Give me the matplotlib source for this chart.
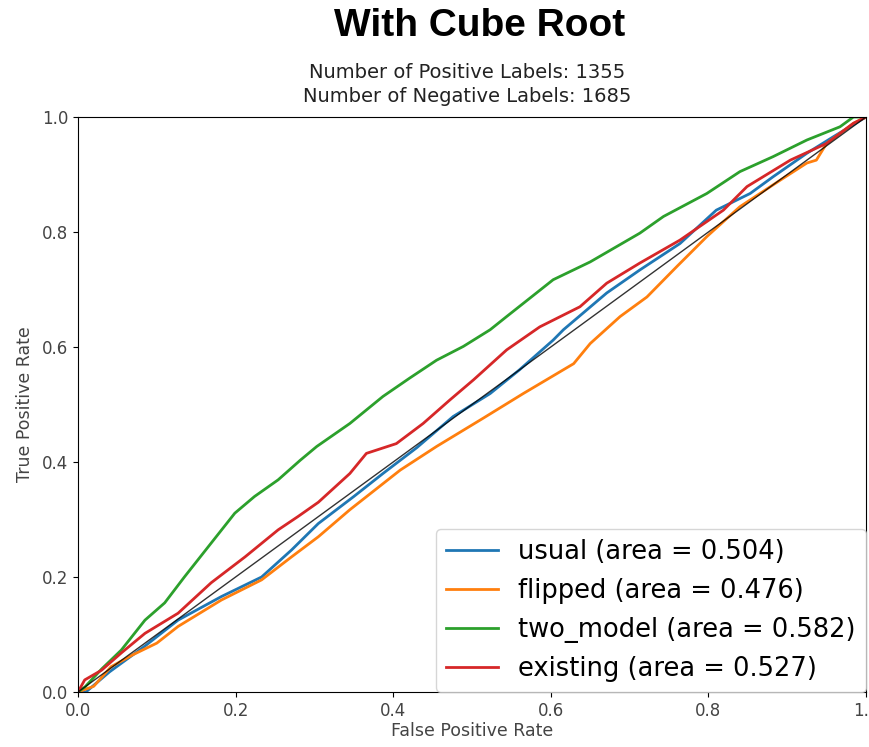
import matplotlib
matplotlib.use('Agg')
import matplotlib.pyplot as plt

# Valores (FPR, TPR)
usual_fpr = [0, 0.01, 0.04, 0.085, 0.127, 0.182, 0.233, 0.271, 0.305, 0.35, 0.387, 0.43,
             0.476, 0.523, 0.56, 0.603, 0.616, 0.671, 0.713, 0.764, 0.81, 0.853, 0.882,
             0.925, 0.959, 1.0]
usual_tpr = [0, 0.0, 0.035, 0.08, 0.125, 0.166, 0.2, 0.247, 0.293, 0.34, 0.38, 0.425,
             0.479, 0.519, 0.56, 0.612, 0.63, 0.694, 0.734, 0.78, 0.838, 0.867, 0.896,
             0.937, 0.966, 1.0]

flipped_fpr = [0, 0.02, 0.042, 0.07, 0.1, 0.127, 0.182, 0.233, 0.271, 0.305, 0.345, 0.409,
               0.455, 0.514, 0.565, 0.629, 0.65, 0.688, 0.722, 0.76, 0.798, 0.84, 0.891,
               0.925, 0.937, 0.95, 0.984, 1.0]
flipped_tpr = [0, 0.01, 0.044, 0.065, 0.085, 0.114, 0.16, 0.195, 0.235, 0.27, 0.317, 0.386,
               0.427, 0.476, 0.519, 0.571, 0.606, 0.653, 0.687, 0.74, 0.792, 0.844, 0.89,
               0.92, 0.925, 0.954, 0.989, 1.0]

two_model_fpr = [0, 0.009, 0.03, 0.055, 0.085, 0.11, 0.135, 0.169, 0.199, 0.224, 0.254,
                 0.282, 0.303, 0.345, 0.387, 0.421, 0.455, 0.489, 0.523, 0.544, 0.603,
                 0.65, 0.713, 0.743, 0.798, 0.84, 0.882, 0.925, 0.967, 0.984, 1.0]
two_model_tpr = [0, 0.009, 0.04, 0.073, 0.125, 0.155, 0.2, 0.259, 0.311, 0.34, 0.369,
                 0.403, 0.427, 0.467, 0.514, 0.546, 0.577, 0.601, 0.63, 0.653, 0.717,
                 0.748, 0.798, 0.827, 0.867, 0.905, 0.931, 0.96, 0.983, 1.0, 1.0]

existing_fpr = [0, 0.0085, 0.03, 0.055, 0.085, 0.127, 0.169, 0.212, 0.254, 0.279, 0.305,
                0.345, 0.366, 0.404, 0.438, 0.472, 0.502, 0.544, 0.586, 0.637, 0.671,
                0.713, 0.764, 0.819, 0.849, 0.904, 0.95, 0.984, 1.0]
existing_tpr = [0, 0.021, 0.038, 0.068, 0.102, 0.137, 0.19, 0.235, 0.282, 0.305, 0.33,
                0.38, 0.415, 0.432, 0.467, 0.508, 0.543, 0.595, 0.635, 0.67, 0.711,
                0.746, 0.786, 0.838, 0.879, 0.925, 0.954, 0.989, 1.0]

curvas = [
    ('usual', usual_fpr, usual_tpr, 0.504, '#1f77b4'),
    ('flipped', flipped_fpr, flipped_tpr, 0.476, '#ff7f0e'),
    ('two_model', two_model_fpr, two_model_tpr, 0.582, '#2ca02c'),
    ('existing', existing_fpr, existing_tpr, 0.527, '#d62728'),
]
n_pos = 1355
n_neg = 1685

fig = plt.figure(figsize=(8.69, 7.47), dpi=100)
ax = fig.add_axes([78 / 869, 1 - 692 / 747, 788 / 869, 575 / 747])

for nombre, fpr, tpr, area, color in curvas:
    ax.plot(fpr, tpr, color=color, lw=2, label=f'{nombre} (area = {area:.3f})')
ax.plot([0, 1], [0, 1], color='black', lw=1, alpha=0.8, zorder=5)

ax.set_xlim(0, 1)
ax.set_ylim(0, 1)
ax.tick_params(labelsize=12, colors='black', labelcolor='#444444')
ax.set_xlabel('False Positive Rate', fontsize=12.5, color='#444444', labelpad=2)
ax.set_ylabel('True Positive Rate', fontsize=12.5, color='#444444', labelpad=6)

ax.legend(loc='lower right', fontsize=18.5, borderaxespad=0, handlelength=2.0,
          labelspacing=0.5, borderpad=0.4)

fig.text(480 / 869, 1 - 26 / 747, 'With Cube Root', ha='center', va='center',
         fontsize=28, fontweight='bold', family='Liberation Sans')
fig.text(467 / 869, 1 - 73 / 747, f'Number of Positive Labels: {n_pos}', ha='center',
         va='center', fontsize=14, color='#222222')
fig.text(467 / 869, 1 - 97 / 747, f'Number of Negative Labels: {n_neg}', ha='center',
         va='center', fontsize=14, color='#222222')

fig.savefig('out.png', dpi=100)
